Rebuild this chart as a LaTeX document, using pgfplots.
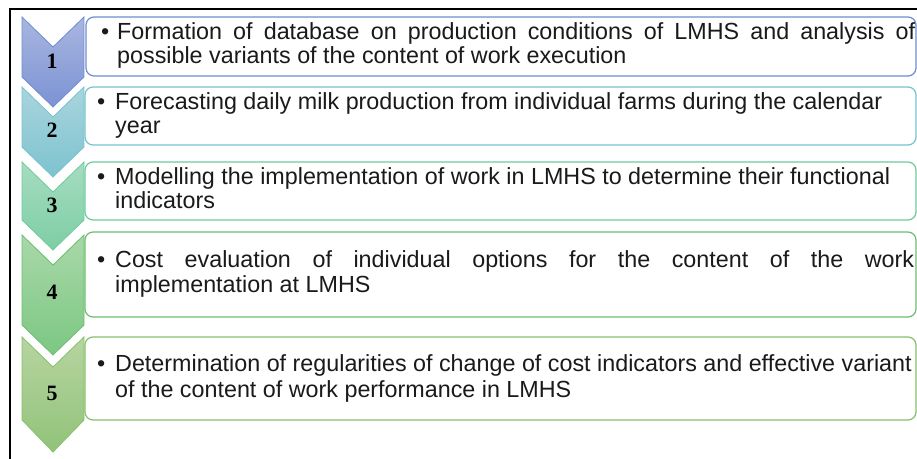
\documentclass[border=0pt]{standalone}
\usepackage{pgfplots}
\pgfplotsset{compat=1.18}
\usepackage{fontspec}
\setmainfont{Liberation Sans}
\newfontfamily\numfont{Liberation Serif}

% chevron colours (top / bottom of the gradient, outline)
\definecolor{cA}{HTML}{A9B6DF}\definecolor{cAb}{HTML}{7B92D4}\definecolor{cAl}{HTML}{6F8DD2}
\definecolor{cB}{HTML}{A9D5DD}\definecolor{cBb}{HTML}{7DC3CF}\definecolor{cBl}{HTML}{76C3CF}
\definecolor{cC}{HTML}{A6DCC1}\definecolor{cCb}{HTML}{7DCEA4}\definecolor{cCl}{HTML}{6DCB9D}
\definecolor{cD}{HTML}{A9D8A9}\definecolor{cDb}{HTML}{7CC782}\definecolor{cDl}{HTML}{6BBE6E}
\definecolor{cE}{HTML}{B7D4A1}\definecolor{cEb}{HTML}{91C379}\definecolor{cEl}{HTML}{86C16A}
\definecolor{txt}{HTML}{1A1A1A}

\newcommand{\numsty}{\numfont\bfseries\fontsize{22}{24}\selectfont}
\newcommand{\txtsty}{\fontsize{23.4}{26}\selectfont\color{txt}}

\begin{document}
\begin{tikzpicture}
\begin{axis}[
    x=1bp, y=1bp,
    xmin=0, xmax=917, ymin=0, ymax=459,
    y dir=reverse,
    hide axis,
    clip=false,
]
% outer frame (left and top only)
\addplot[black, line width=2bp] coordinates {(917,9) (10,9) (10,459)};

% boxes
\addplot[cAl, line width=1.2bp, fill=white, rounded corners=8bp] coordinates {(86,17) (916,17) (916,76) (86,76)} -- cycle;
\addplot[cBl, line width=1.2bp, fill=white, rounded corners=8bp] coordinates {(85,87) (916,87) (916,145) (85,145)} -- cycle;
\addplot[cCl, line width=1.2bp, fill=white, rounded corners=8bp] coordinates {(85,162) (916,162) (916,220) (85,220)} -- cycle;
\addplot[cDl, line width=1.2bp, fill=white, rounded corners=8bp] coordinates {(85,232) (916,232) (916,317) (85,317)} -- cycle;
\addplot[cEl, line width=1.2bp, fill=white, rounded corners=8bp] coordinates {(85,337) (916,337) (916,420) (85,420)} -- cycle;

% chevrons
\addplot[cAl, line width=0.8bp, top color=cA, bottom color=cAb] coordinates {(22,17) (53,47) (84,17) (84,77) (53,107) (22,77)} -- cycle;
\addplot[cBl, line width=0.8bp, top color=cB, bottom color=cBb] coordinates {(22,87) (53,117) (84,87) (84,147) (53,177) (22,147)} -- cycle;
\addplot[cCl, line width=0.8bp, top color=cC, bottom color=cCb] coordinates {(22,162) (53,192) (84,162) (84,220) (53,250) (22,220)} -- cycle;
\addplot[cDl, line width=0.8bp, top color=cD, bottom color=cDb] coordinates {(22,235) (53,265) (84,235) (84,325) (53,355) (22,325)} -- cycle;
\addplot[cEl, line width=0.8bp, top color=cE, bottom color=cEb] coordinates {(22,337) (53,367) (84,337) (84,420) (53,452) (22,420)} -- cycle;

% numbers
\node[anchor=base, inner sep=0] at (axis cs:52,69) {\numsty 1};
\node[anchor=base, inner sep=0] at (axis cs:52,138) {\numsty 2};
\node[anchor=base, inner sep=0] at (axis cs:52,213) {\numsty 3};
\node[anchor=base, inner sep=0] at (axis cs:52,300) {\numsty 4};
\node[anchor=base, inner sep=0] at (axis cs:52,400) {\numsty 5};

% bullets
\node[anchor=base west, inner sep=0] at (axis cs:101,40) {\txtsty •};
\node[anchor=base west, inner sep=0] at (axis cs:97,110) {\txtsty •};
\node[anchor=base west, inner sep=0] at (axis cs:97,185) {\txtsty •};
\node[anchor=base west, inner sep=0] at (axis cs:97,268) {\txtsty •};
\node[anchor=base west, inner sep=0] at (axis cs:97,372) {\txtsty •};

% texts
\node[anchor=base west, inner sep=0] at (axis cs:117,40) {\txtsty\makebox[798bp][s]{Formation of database on production conditions of LMHS and analysis of}};
\node[anchor=base west, inner sep=0] at (axis cs:117,64) {\txtsty possible variants of the content of work execution};
\node[anchor=base west, inner sep=0] at (axis cs:115,110) {\txtsty Forecasting daily milk production from individual farms during the calendar};
\node[anchor=base west, inner sep=0] at (axis cs:115,134) {\txtsty year};
\node[anchor=base west, inner sep=0] at (axis cs:115,185) {\txtsty Modelling the implementation of work in LMHS to determine their functional};
\node[anchor=base west, inner sep=0] at (axis cs:115,209) {\txtsty indicators};
\node[anchor=base west, inner sep=0] at (axis cs:115,268) {\txtsty\makebox[799bp][s]{Cost evaluation of individual options for the content of the work}};
\node[anchor=base west, inner sep=0] at (axis cs:115,293) {\txtsty implementation at LMHS};
\node[anchor=base west, inner sep=0] at (axis cs:115,372) {\txtsty Determination of regularities of change of cost indicators and effective variant};
\node[anchor=base west, inner sep=0] at (axis cs:115,397) {\txtsty of the content of work performance in LMHS};
\end{axis}
\pgfresetboundingbox
\path[use as bounding box] (current axis.south west) rectangle (current axis.north east);
\end{tikzpicture}
\end{document}
